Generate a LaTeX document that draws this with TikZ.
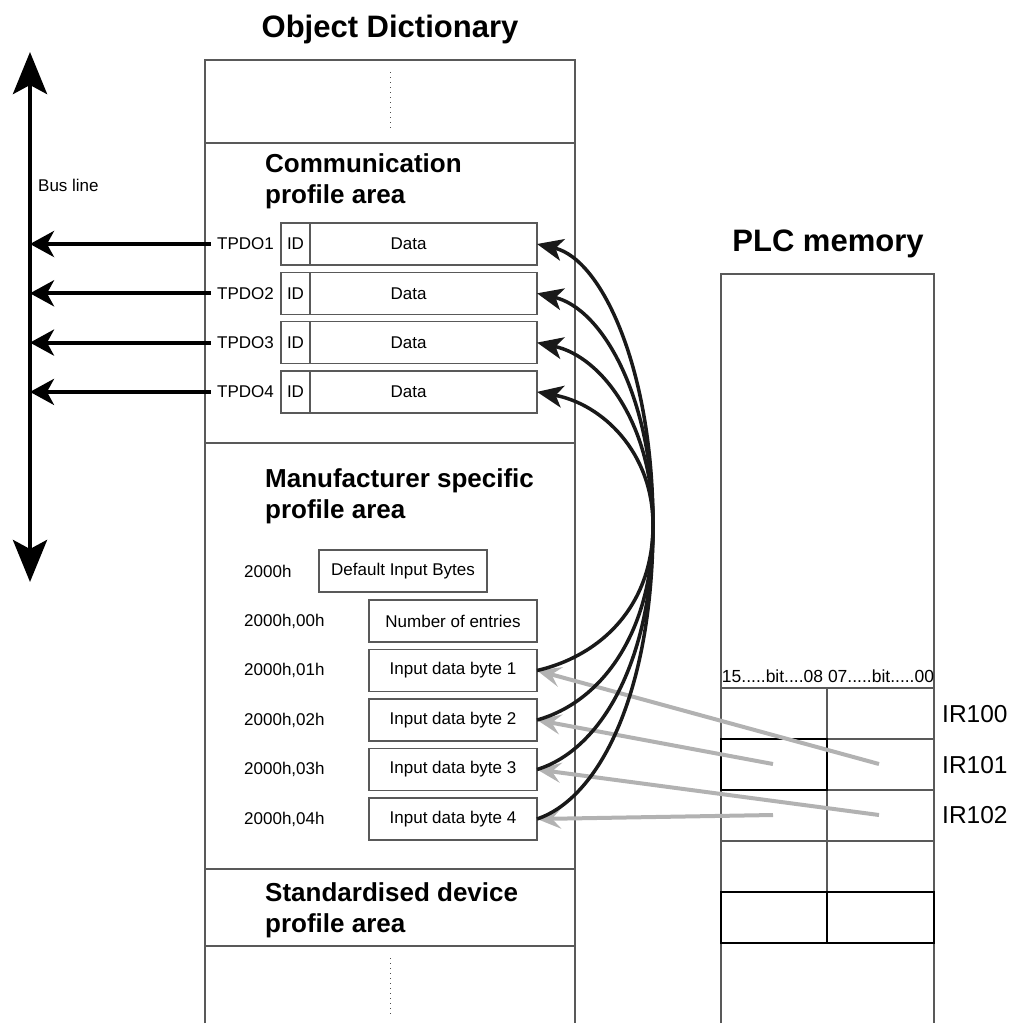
\documentclass[tikz,border=0pt]{standalone}
\usepackage{fontspec}
\setmainfont{Liberation Sans}
\usetikzlibrary{arrows.meta,positioning}

\begin{document}
\begin{tikzpicture}
            [x=1pt,y=-1pt,
            frame line/.style={draw=black!65,line width=1.2pt},
            cell line/.style={draw=black,line width=1.2pt},
            box/.style={draw=black!65,line width=1.2pt,minimum height=42pt,inner sep=0pt,outer sep=0pt,font=\fontsize{17}{20}\selectfont},
            small text/.style={inner sep=0pt,font=\fontsize{17}{20}\selectfont},
            area title/.style={anchor=base west,align=left,inner sep=0pt,font=\fontsize{26}{31}\selectfont\bfseries},
            main title/.style={anchor=base,inner sep=0pt,font=\fontsize{31}{36}\selectfont\bfseries},
            reg label/.style={anchor=base west,inner sep=0pt,font=\fontsize{24.5}{28}\selectfont},
            bus line/.style={line width=4.5pt,{Stealth[length=42pt,width=34pt,inset=9pt]}-{Stealth[length=42pt,width=34pt,inset=9pt]}},
            bus arrow/.style={line width=4pt,shorten <=6pt,-{Stealth[length=24pt,width=26pt,inset=7pt]}},
            map arrow/.style={line width=3.5pt,black!90,-{Stealth[length=26pt,width=22pt,inset=7pt]}},
            plc arrow/.style={line width=4pt,black!30,-{Stealth[length=24pt,width=20pt,inset=9pt]}}]
            \useasboundingbox (0,0) rectangle (1025,1023);

            % object dictionary frame
            \node[main title] (odtitle) at (390,37) {Object Dictionary};
            \draw[frame line] (205,1023) -- (205,60) -- (575,60) -- (575,1023);
            \draw[frame line] (205,143) -- (575,143);
            \draw[frame line] (205,443) -- (575,443);
            \draw[frame line] (205,869) -- (575,869);
            \draw[frame line] (205,946) -- (575,946);
            \draw[black!70,line width=1pt,dash pattern=on 1pt off 4pt] (390,72) -- (390,130);
            \draw[black!70,line width=1pt,dash pattern=on 1pt off 4pt] (390,958) -- (390,1016);

            % communication profile area
            \node[area title] (comm) at (265,203) {Communication\\profile area};
            \node[box,minimum width=29pt,anchor=west] (id1) at (281,244) {ID};
            \node[box,minimum width=227pt,right=0pt of id1] (data1) {Data\hspace*{30pt}};
            \node[box,minimum width=29pt,below=7.3pt of id1] (id2) {ID};
            \node[box,minimum width=227pt,right=0pt of id2] (data2) {Data\hspace*{30pt}};
            \node[box,minimum width=29pt,below=7.3pt of id2] (id3) {ID};
            \node[box,minimum width=227pt,right=0pt of id3] (data3) {Data\hspace*{30pt}};
            \node[box,minimum width=29pt,below=7.3pt of id3] (id4) {ID};
            \node[box,minimum width=227pt,right=0pt of id4] (data4) {Data\hspace*{30pt}};
            \node[small text,left=7pt of id1] (tpdo1) {TPDO1};
            \node[small text,left=7pt of id2] (tpdo2) {TPDO2};
            \node[small text,left=7pt of id3] (tpdo3) {TPDO3};
            \node[small text,left=7pt of id4] (tpdo4) {TPDO4};

            % bus
            \coordinate (bustop) at (30,52);
            \coordinate (busend) at (30,582);
            \draw[bus line] (bustop) -- (busend);
            \node[small text,anchor=base west] (busname) at (38,191) {Bus line};
            \draw[bus arrow] (tpdo1.west) -- (tpdo1.west -| bustop);
            \draw[bus arrow] (tpdo2.west) -- (tpdo2.west -| bustop);
            \draw[bus arrow] (tpdo3.west) -- (tpdo3.west -| bustop);
            \draw[bus arrow] (tpdo4.west) -- (tpdo4.west -| bustop);

            % manufacturer specific profile area
            \node[area title] (manu) at (265,518) {Manufacturer specific\\profile area};
            \node[box,minimum width=168pt,anchor=west] (default) at (319,571) {Default Input Bytes};
            \node[box,minimum width=168pt,anchor=west] (entries) at (369,621) {Number of entries};
            \node[box,minimum width=168pt,below=7.5pt of entries] (byte1) {Input data byte 1};
            \node[box,minimum width=168pt,below=7.5pt of byte1] (byte2) {Input data byte 2};
            \node[box,minimum width=168pt,below=7.5pt of byte2] (byte3) {Input data byte 3};
            \node[box,minimum width=168pt,below=7.5pt of byte3] (byte4) {Input data byte 4};
            \node[small text,anchor=west] (idx) at (244,571) {2000h};
            \node[small text,anchor=west] (idx0) at (idx.west |- entries) {2000h,00h};
            \node[small text,anchor=west] (idx1) at (idx.west |- byte1) {2000h,01h};
            \node[small text,anchor=west] (idx2) at (idx.west |- byte2) {2000h,02h};
            \node[small text,anchor=west] (idx3) at (idx.west |- byte3) {2000h,03h};
            \node[small text,anchor=west] (idx4) at (idx.west |- byte4) {2000h,04h};

            % standardised device profile area
            \node[area title] (std) at (265,932) {Standardised device\\profile area};

            % plc memory
            \node[main title] (plctitle) at (828,251) {PLC memory};
            \draw[frame line] (721,1023) -- (721,274) -- (934,274) -- (934,1023);
            \foreach \y in {688,739,790,841,892,943}
                \draw[frame line] (721,\y) -- (934,\y);
            \draw[frame line] (827,688) -- (827,943);
            \draw[cell line] (721,739) rectangle (827,790);
            \draw[cell line] (721,892) rectangle (934,943) (827,892) -- (827,943);
            \node[inner sep=0pt,anchor=base,font=\fontsize{17.5}{20}\selectfont] (bits) at (828,682) {15.....bit....08 07.....bit.....00};
            \node[reg label] (ir100) at (942,722) {IR100};
            \node[reg label] (ir101) at (942,773) {IR101};
            \node[reg label] (ir102) at (942,823) {IR102};

            % plc to object dictionary
            \coordinate (ir101lo) at (879,764);
            \coordinate (ir101hi) at (773,764);
            \coordinate (ir102lo) at (879,815);
            \coordinate (ir102hi) at (773,815);
            \draw[plc arrow] (ir101lo) -- (byte1.east);
            \draw[plc arrow] (ir101hi) -- (byte2.east);
            \draw[plc arrow] (ir102lo) -- (byte3.east);
            \draw[plc arrow] (ir102hi) -- (byte4.east);

            % mapping into the tpdos
            \coordinate (cross) at (653,525);
            \draw[map arrow] (byte1.east) .. controls +(65,-15) and +(0,80) .. (cross) .. controls +(0,-155) and +(65,15) .. (data1.east);
            \draw[map arrow] (byte2.east) .. controls +(65,-18) and +(0,107) .. (cross) .. controls +(0,-128) and +(65,15) .. (data2.east);
            \draw[map arrow] (byte3.east) .. controls +(65,-20) and +(0,134) .. (cross) .. controls +(0,-100) and +(65,14) .. (data3.east);
            \draw[map arrow] (byte4.east) .. controls +(65,-22) and +(0,162) .. (cross) .. controls +(0,-73) and +(65,12) .. (data4.east);
\end{tikzpicture}
\end{document}
